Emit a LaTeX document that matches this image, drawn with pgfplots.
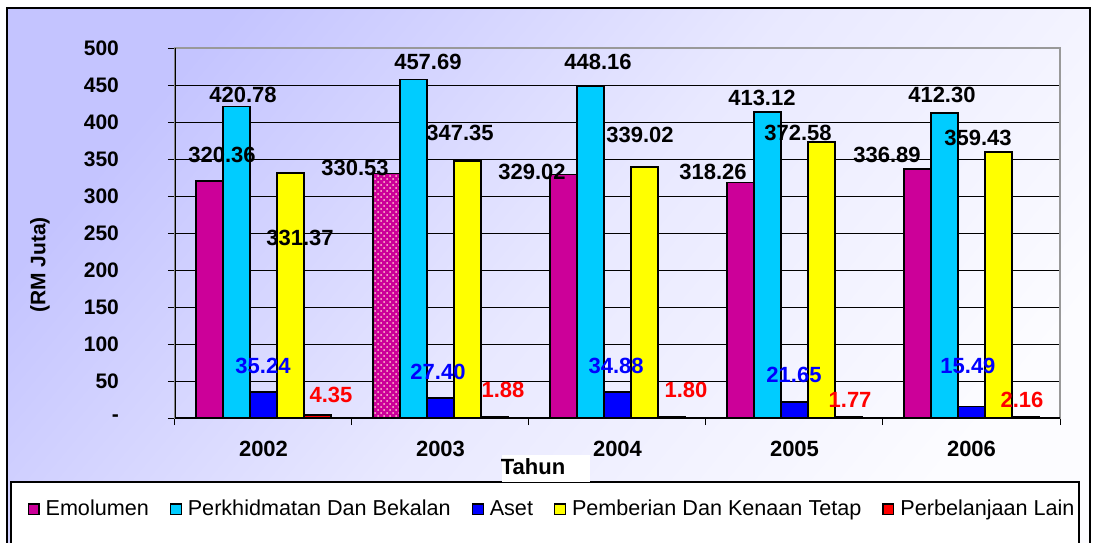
\documentclass[border=0pt]{standalone}
\usepackage{pgfplots}
\pgfplotsset{compat=1.18}
\usepackage{fontspec}
\setmainfont{Liberation Sans}
\usetikzlibrary{patterns}

\definecolor{emol}{RGB}{204,0,153}
\definecolor{perk}{RGB}{0,204,255}
\definecolor{aset}{RGB}{0,0,255}
\definecolor{pemb}{RGB}{255,255,0}
\definecolor{lain}{RGB}{255,0,0}
\definecolor{bgtop}{RGB}{196,196,255}
\definecolor{bgbot}{RGB}{252,252,255}

\tikzset{lbl/.style={font=\fontsize{11}{13}\selectfont\bfseries}}

\begin{document}
\begin{tikzpicture}
% page = 1093 x 542 px, 1 px = 0.5pt, origin at the axis corner (175,418)
\clip (-87.5pt,-62pt) rectangle (459pt,209pt);
\shade[top color=bgtop, bottom color=bgbot, middle color=bgtop!35!bgbot, shading angle=50]
  (-84pt,-75pt) rectangle (457.5pt,205pt);
\draw[black, line width=0.8pt] (-84pt,-75pt) rectangle (457.5pt,205pt);
% legend box
\draw[black, fill=white, line width=0.6pt] (-82pt,-32pt) rectangle (452pt,-75pt);
% axis title box
\fill[white] (163.5pt,-18.5pt) rectangle (207.5pt,-32pt);
\node[font=\fontsize{11}{13}\selectfont\bfseries] at (179pt,-24.5pt) {Tahun};
\node[font=\fontsize{10.5}{12}\selectfont\bfseries, rotate=90] at (-67.5pt,76.5pt) {(RM Juta)};

\begin{axis}[
  at={(0pt,0pt)}, anchor=south west,
  scale only axis, width=442.5pt, height=185pt,
  xmin=-0.5, xmax=4.5, ymin=0, ymax=500,
  ytick={0,50,...,500},
  yticklabels={-,50,100,150,200,250,300,350,400,450,500},
  xtick={-0.5,0.5,...,4.5}, xticklabels={},
  extra x ticks={0,1,2,3,4},
  extra x tick labels={2002,2003,2004,2005,2006},
  extra x tick style={major tick length=0pt, grid=none},
  tick align=outside, ytick pos=left, xtick pos=bottom,
  major tick length=3.5pt,
  tick style={black, line width=0.5pt},
  ymajorgrids, grid style={black, line width=0.5pt},
  axis line style={gray!80, line width=0.6pt},
  ticklabel style={font=\fontsize{10.5}{12}\selectfont\bfseries},
  yticklabel style={xshift=-21pt},
  xticklabel style={yshift=-8pt, font=\fontsize{11}{13}\selectfont\bfseries},
  legend style={draw=none, fill=none, at={(-0.167,-0.247)}, anchor=west,
    legend columns=5, font=\fontsize{10.8}{12}\selectfont,
    /tikz/every odd column/.append style={column sep=1pt},
    /tikz/every even column/.append style={column sep=8.5pt},
    inner sep=0pt},
  legend image code/.code={\draw[#1, draw=black, line width=0.6pt] (0pt,-2.7pt) rectangle (5.4pt,2.7pt);},
  every axis plot/.append style={ybar, bar width=13.5pt, draw=black, line width=0.8pt},
]
\addplot[fill=emol, bar shift=-27pt] coordinates {(0,320.36) (1,330.53) (2,329.02) (3,318.26) (4,336.89)};
\addlegendentry{Emolumen}
\addplot[fill=perk, bar shift=-13.5pt] coordinates {(0,420.78) (1,457.69) (2,448.16) (3,413.12) (4,412.30)};
\addlegendentry{Perkhidmatan Dan Bekalan}
\addplot[fill=aset, bar shift=0pt] coordinates {(0,35.24) (1,27.40) (2,34.88) (3,21.65) (4,15.49)};
\addlegendentry{Aset}
\addplot[fill=pemb, bar shift=13.5pt] coordinates {(0,331.37) (1,347.35) (2,339.02) (3,372.58) (4,359.43)};
\addlegendentry{Pemberian Dan Kenaan Tetap}
\addplot[fill=lain, bar shift=27pt] coordinates {(0,4.35) (1,1.88) (2,1.80) (3,1.77) (4,2.16)};
\addlegendentry{Perbelanjaan Lain}
% dotted fill of the 2003 Emolumen bar
\addplot[forget plot, fill=emol, bar shift=-27pt,
  postaction={pattern=crosshatch dots, pattern color=pink!80!white}] coordinates {(1,330.53)};

\draw[black, line width=0.8pt] (rel axis cs:0,1) -- (rel axis cs:0,0) -- (rel axis cs:1,0);

% data labels
\node[lbl] at (axis cs:-0.234,355.4) {320.36};
\node[lbl] at (axis cs:-0.116,436.5) {420.78};
\node[lbl] at (axis cs:0.206,243) {331.37};
\node[lbl, text=aset] at (axis cs:-0.003,70.3) {35.24};
\node[lbl, text=lain] at (axis cs:0.381,31) {4.35};

\node[lbl] at (axis cs:0.517,338) {330.53};
\node[lbl] at (axis cs:0.929,481) {457.69};
\node[lbl] at (axis cs:1.110,385) {347.35};
\node[lbl, text=aset] at (axis cs:0.986,62) {27.40};
\node[lbl, text=lain] at (axis cs:1.353,38) {1.88};

\node[lbl] at (axis cs:1.517,332) {329.02};
\node[lbl] at (axis cs:1.890,481) {448.16};
\node[lbl] at (axis cs:2.127,382) {339.02};
\node[lbl, text=aset] at (axis cs:1.992,70) {34.88};
\node[lbl, text=lain] at (axis cs:2.387,38) {1.80};

\node[lbl] at (axis cs:2.540,332) {318.26};
\node[lbl] at (axis cs:2.816,432) {413.12};
\node[lbl] at (axis cs:3.020,385) {372.58};
\node[lbl, text=aset] at (axis cs:2.997,58) {21.65};
\node[lbl, text=lain] at (axis cs:3.314,24) {1.77};

\node[lbl] at (axis cs:3.523,355) {336.89};
\node[lbl] at (axis cs:3.833,436.5) {412.30};
\node[lbl] at (axis cs:4.037,378) {359.43};
\node[lbl, text=aset] at (axis cs:3.980,70) {15.49};
\node[lbl, text=lain] at (axis cs:4.285,24) {2.16};
\end{axis}
\end{tikzpicture}
\end{document}
